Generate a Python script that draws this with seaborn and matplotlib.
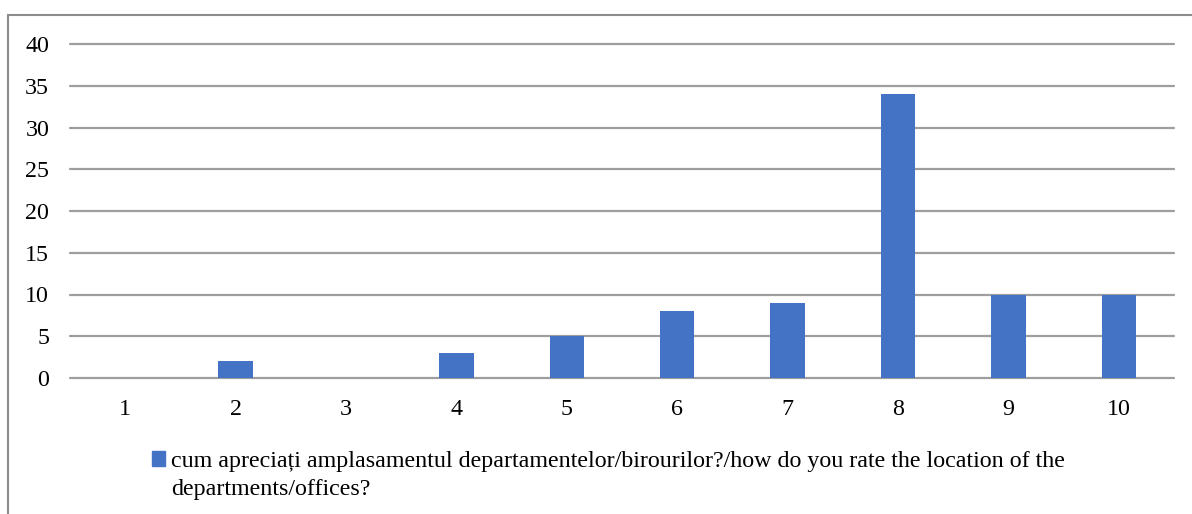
import matplotlib as mpl
mpl.use('Agg')

import matplotlib.pyplot as plt
import matplotlib.patches as mpatches
import pandas as pd
import seaborn as sns

ratings = ['1', '2', '3', '4', '5', '6', '7', '8', '9', '10']
counts = [0, 2, 0, 3, 5, 8, 9, 34, 10, 10]
label_line1 = 'cum apreciați amplasamentul departamentelor/birourilor?/how do you rate the location of the'
label_line2 = 'departments/offices?'
yticks = [0, 5, 10, 15, 20, 25, 30, 35, 40]

bar_color = '#4472C4'
grid_color = '#9E9E9E'

sns.set_style('white')
plt.rcParams['font.family'] = ['Liberation Serif', 'DejaVu Serif']
plt.rcParams['font.size'] = 17.3
plt.rcParams['text.color'] = 'black'

dset = pd.DataFrame({'rating': ratings, 'count': counts})

fig = plt.figure(figsize=(11.92, 5.14), dpi=100)
ax = fig.add_axes([70 / 1192, 1 - 378 / 514, (1174 - 70) / 1192, (378 - 44) / 514])
sns.barplot(x='rating', y='count', data=dset, color=bar_color, width=0.31,
            saturation=1, linewidth=0, ax=ax, zorder=3)

ax.set_ylim(0, 40)
ax.set_yticks(yticks)
ax.set_xlim(-0.5, len(ratings) - 0.5)
ax.set_xlabel('')
ax.set_ylabel('')
for s in ax.spines.values():
    s.set_visible(False)
ax.yaxis.grid(True, color=grid_color, linewidth=1.6, zorder=0)
ax.set_axisbelow(True)
for gl in ax.yaxis.get_gridlines():
    gl.set_clip_on(False)
ax.tick_params(axis='both', length=0, labelsize=17.3, colors='black')
ax.tick_params(axis='y', pad=15)
ax.tick_params(axis='x', pad=15)

# outer chart frame (only left and top edges fall inside the picture)
frame = mpatches.Rectangle((8 / 1192, -0.5), 1.2, 0.5 + 1 - 15 / 514,
                           transform=fig.transFigure, fill=False,
                           edgecolor='#8C8C8C', linewidth=1.5, clip_on=False)
fig.patches.append(frame)

handle = mpatches.Patch(color=bar_color, label=label_line1)
leg = fig.legend(handles=[handle], loc='upper left', bbox_to_anchor=(152 / 1192, 1 - 451 / 514),
                 frameon=False, handlelength=0.55, handleheight=0.55, handletextpad=0.25,
                 borderaxespad=0, borderpad=0, fontsize=17.3)

# second line of the wrapped legend label, aligned with the first
fig.canvas.draw()
bb = leg.get_texts()[0].get_window_extent().transformed(fig.transFigure.inverted())
fig.text(bb.x0, bb.y0 - 28 / 514, label_line2, fontsize=17.3, ha='left', va='bottom')

plt.savefig('out.png', dpi=100)
plt.close()
